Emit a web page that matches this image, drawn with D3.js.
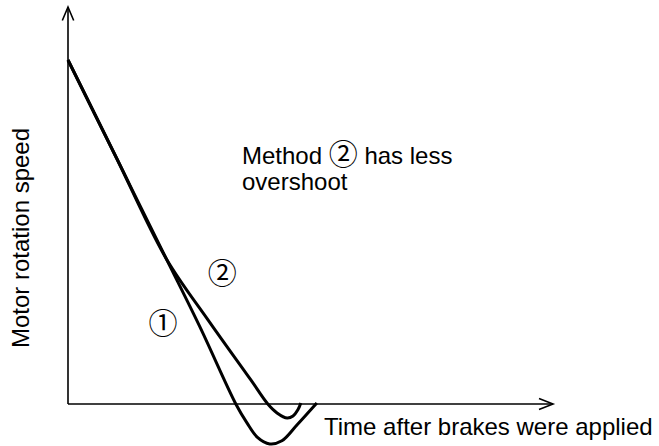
<!DOCTYPE html>
<html>
<head>
<meta charset="utf-8">
<script src="https://cdn.jsdelivr.net/npm/d3@7/dist/d3.min.js"></script>
<style>
  html, body { margin: 0; padding: 0; background: #fff; }
  svg { display: block; }
  text { font-family: "Liberation Sans", Arial, "Noto Sans CJK JP", sans-serif; fill: #000; }
</style>
</head>
<body>
<script>
// ---- data (arbitrary units: time 0..100, speed 0..100) ----
const time1  = [0, 10, 20.2, 27.2, 34.6, 36.9, 39.0, 41.6, 44.1, 47.2, 51.3];
const speed1 = [100, 71.5, 42.4, 22.4, 0, -5.5, -9.6, -11.6, -10.7, -6.1, 0.3];
const time2  = [0, 10, 20.2, 28.9, 37.7, 41.2, 43.1, 45.2, 46.4, 47.4, 48.0];
const speed2 = [100, 71.5, 42.4, 24.4, 7.0, 0, -2.6, -4.1, -3.5, -1.7, 0.3];
const seriesLabels = ["\u2460", "\u2461"];
const labelTime  = [19.6, 31.8];
const labelSpeed = [24.1, 38.7];
const xTitle = "Time after brakes were applied";
const yTitle = "Motor rotation speed";
const noteParts = [["Method ", "\u2461", " has less"], ["overshoot"]];
const axisEnd = { x: 100, y: 115.4 };

// ---- layout ----
const W = 659, H = 446;
const svg = d3.select("body").append("svg").attr("width", W).attr("height", H);

const x = d3.scaleLinear().domain([0, 100]).range([68, 553]);
const y = d3.scaleLinear().domain([0, 100]).range([404, 60]);

// axes
const axisG = svg.append("g").attr("stroke", "#000").attr("stroke-width", 1.6).attr("fill", "none");
axisG.append("line").attr("x1", x(0)).attr("y1", y(0)).attr("x2", x(axisEnd.x)).attr("y2", y(0));
axisG.append("line").attr("x1", x(0)).attr("y1", y(0)).attr("x2", x(0)).attr("y2", y(axisEnd.y));
const xt = [x(axisEnd.x), y(0)];
axisG.append("path").attr("d", `M${xt[0]-14},${xt[1]-5.5}L${xt[0]},${xt[1]}L${xt[0]-14},${xt[1]+5.5}`);
const yt = [x(0), y(axisEnd.y)];
axisG.append("path").attr("d", `M${yt[0]-5.7},${yt[1]+13.5}L${yt[0]},${yt[1]}L${yt[0]+5.7},${yt[1]+13.5}`);

// curves
const line = d3.line().x(d => x(d[0])).y(d => y(d[1])).curve(d3.curveCatmullRom.alpha(0.5));
const s1 = time1.map((t, i) => [t, speed1[i]]);
const s2 = time2.map((t, i) => [t, speed2[i]]);
[s1, s2].forEach(s => {
  svg.append("path").datum(s).attr("d", line)
    .attr("fill", "none").attr("stroke", "#000").attr("stroke-width", 3)
    .attr("stroke-linejoin", "round").attr("stroke-linecap", "butt");
});

// series labels
seriesLabels.forEach((lab, i) => {
  svg.append("text").attr("x", x(labelTime[i])).attr("y", y(labelSpeed[i]))
    .attr("text-anchor", "middle").attr("dominant-baseline", "central")
    .style("font-size", "29px").style("font-family", "'Noto Sans CJK JP', sans-serif")
    .text(lab);
});

// note
const note = svg.append("text").attr("x", 242).attr("y", 164).style("font-size", "24px");
noteParts.forEach((parts, i) => {
  parts.forEach((p, j) => {
    const ts = note.append("tspan").text(p);
    if (j === 0) ts.attr("x", 242).attr("dy", i === 0 ? 0 : 26);
    if (p === "\u2461") ts.style("font-size", "29px").style("font-family", "'Noto Sans CJK JP', sans-serif").attr("dy", 1);
    else if (j > 0 && parts[j - 1] === "\u2461") ts.attr("dy", -1);
  });
});

// axis titles
svg.append("text").attr("x", 324).attr("y", 435).style("font-size", "24px").text(xTitle);
svg.append("text").attr("transform", "translate(29,238) rotate(-90)")
  .attr("text-anchor", "middle").style("font-size", "24px").text(yTitle);
</script>
</body>
</html>
